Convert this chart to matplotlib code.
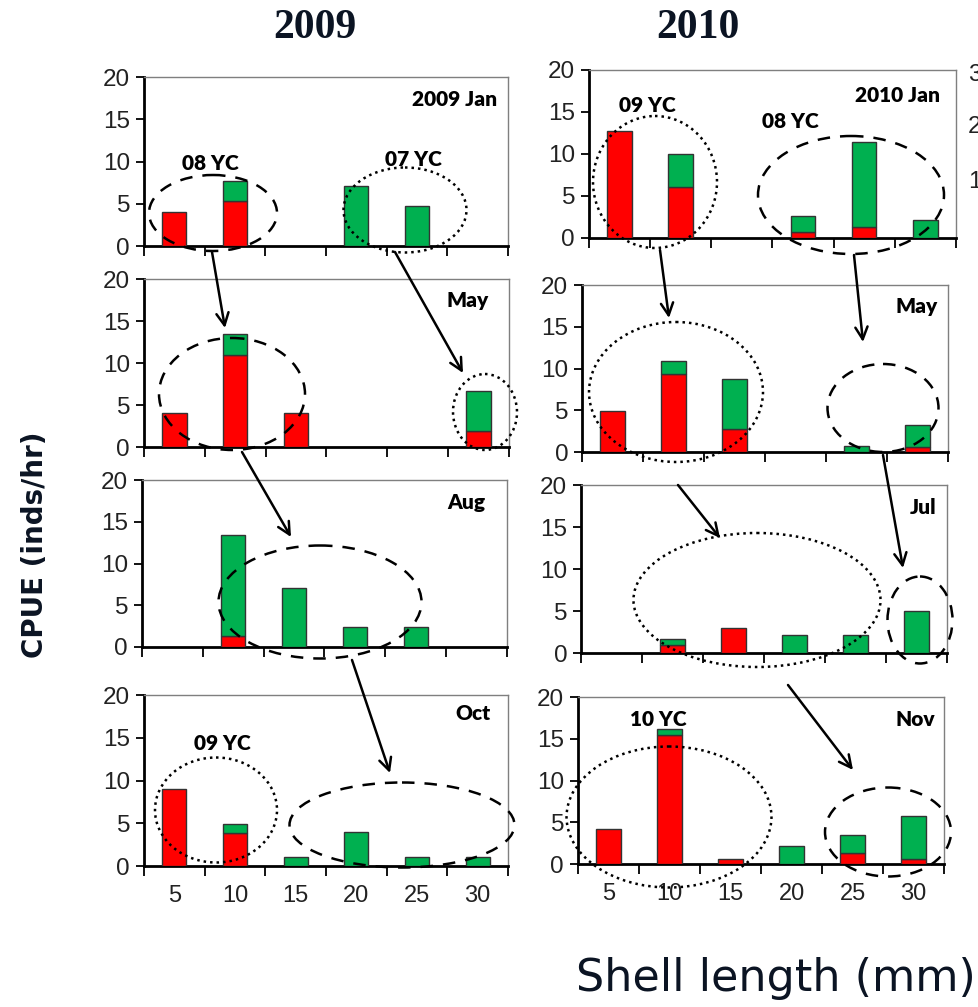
import matplotlib
matplotlib.use('Agg')
import matplotlib.pyplot as plt
import numpy as np
from matplotlib.patches import Ellipse, FancyArrowPatch
from matplotlib.transforms import Affine2D

# shell length classes (mm)
sizes = [5, 10, 15, 20, 25, 30]

# CPUE per size class, red and green parts of each stacked bar
jan09_red = [4.0, 5.3, 0, 0, 0, 0]
jan09_green = [0, 2.4, 0, 7.1, 4.7, 0]
may09_red = [4.0, 11.0, 4.0, 0, 0, 1.95]
may09_green = [0, 2.4, 0, 0, 0, 4.75]
aug09_red = [0, 1.3, 0, 0, 0, 0]
aug09_green = [0, 12.1, 7.1, 2.4, 2.4, 0]
oct09_red = [9.0, 3.9, 0, 0, 0, 0]
oct09_green = [0, 1.05, 1.0, 3.95, 1.0, 1.0]

jan10_red = [12.75, 6.05, 0, 0.7, 1.3, 0]
jan10_green = [0, 4.0, 0, 1.95, 10.1, 2.1]
may10_red = [4.9, 9.3, 2.8, 0, 0, 0.55]
may10_green = [0, 1.6, 6.0, 0, 0.75, 2.7]
jul10_red = [0, 0.9, 3.0, 0, 0, 0]
jul10_green = [0, 0.75, 0, 2.1, 2.1, 4.95]
nov10_red = [4.15, 15.5, 0.6, 0, 1.35, 0.6]
nov10_green = [0, 0.7, 0, 2.1, 2.1, 5.1]

panels = [
    ('2009 Jan', jan09_red, jan09_green, [0.1471, 0.7557, 0.3718, 0.1678]),
    ('May', may09_red, may09_green, [0.1471, 0.5561, 0.3728, 0.1668]),
    ('Aug', aug09_red, aug09_green, [0.1450, 0.3575, 0.3728, 0.1658]),
    ('Oct', oct09_red, oct09_green, [0.1471, 0.1400, 0.3718, 0.1698]),
    ('2010 Jan', jan10_red, jan10_green, [0.6016, 0.7637, 0.3749, 0.1668]),
    ('May', may10_red, may10_green, [0.5945, 0.5511, 0.3739, 0.1658]),
    ('Jul', jul10_red, jul10_green, [0.5935, 0.3515, 0.3739, 0.1668]),
    ('Nov', nov10_red, nov10_green, [0.5904, 0.1420, 0.3739, 0.1658]),
]
bottom_row = [3, 7]

RED = '#FF0000'
GREEN = '#00B050'
INK = '#0b1423'

fig = plt.figure(figsize=(9.79, 10.07), dpi=100)
# pixel coords of the picture (origin top-left) for the hand drawn marks
T = Affine2D().scale(1 / 979, -1 / 1007).translate(0, 1) + fig.transFigure

x = np.arange(len(sizes))
for i, (name, red, green, pos) in enumerate(panels):
    ax = fig.add_axes(pos)
    red = np.array(red)
    green = np.array(green)
    m = red > 0
    ax.bar(x[m], red[m], width=0.4, color=RED, edgecolor='#333333', lw=1, zorder=3)
    m = green > 0
    ax.bar(x[m], green[m], bottom=red[m], width=0.4, color=GREEN,
           edgecolor='#333333', lw=1, zorder=3)
    ax.set_xlim(-0.5, 5.5)
    ax.set_ylim(0, 20)
    ax.set_yticks([0, 5, 10, 15, 20])
    ax.set_xticks(np.arange(-0.5, 6, 1))
    ax.set_xticklabels([])
    ax.set_xticks(x, minor=True)
    if i in bottom_row:
        ax.set_xticklabels([str(s) for s in sizes], minor=True)
    ax.tick_params(axis='x', which='major', length=7, width=1.3, direction='out')
    ax.tick_params(axis='x', which='minor', length=0, pad=14, labelsize=17,
                   labelcolor='#222222')
    ax.tick_params(axis='y', length=6, width=1.3, direction='out', pad=4,
                   labelsize=17.5, labelcolor='#222222')
    for lab in ax.get_xticklabels(minor=True) + ax.get_yticklabels():
        lab.set_family('Liberation Sans')
    for s in ['left', 'bottom']:
        ax.spines[s].set_linewidth(2)
        ax.spines[s].set_color('black')
    for s in ['top', 'right']:
        ax.spines[s].set_linewidth(1)
        ax.spines[s].set_color('#7f7f7f')

# month labels
months = [('2009 Jan', 455, 100), ('May', 468, 300), ('Aug', 466, 502),
          ('Oct', 473, 713), ('2010 Jan', 898, 95), ('May', 917, 307),
          ('Jul', 923, 507), ('Nov', 915, 719)]
for s, px, py in months:
    fig.text(px, py, s, transform=T, ha='center', va='center', fontsize=15,
             fontweight='heavy', family='Lato', color='black')

# year-class labels
cohorts = [('08 YC', 210, 163), ('07 YC', 413, 160), ('09 YC', 222, 743),
           ('09 YC', 647, 105), ('08 YC', 790, 122), ('10 YC', 658, 719)]
for s, px, py in cohorts:
    fig.text(px, py, s, transform=T, ha='center', va='center', fontsize=15,
             fontweight='heavy', family='Lato', color='black')

# ellipses: centre x, centre y, width, height, style
dash = (0, (5, 4))
dot = (0, (1, 1.6))
rings = [
    (213, 213, 128, 76, dash), (405, 210, 123, 85, dot),
    (232, 394, 146, 112, dash), (485, 412, 64, 76, dot),
    (320, 602, 203, 113, dash),
    (216, 810, 122, 105, dot), (402, 825, 225, 85, dash),
    (655, 182, 124, 132, dot), (851, 195, 186, 118, dash),
    (676, 392, 174, 140, dot), (883, 408, 111, 88, dash),
    (757, 600, 247, 134, dot), (920, 620, 65, 87, dash),
    (669, 817, 205, 141, dot), (888, 832, 126, 89, dash),
]
for cx, cy, w, h, ls in rings:
    fig.add_artist(Ellipse((cx, cy), w, h, transform=T, fill=False,
                           ec='black', lw=1.8, ls=ls, zorder=6))

# arrows following the cohorts
arrows = [((212, 252), (225, 328)), ((395, 252), (463, 373)),
          ((242, 452), (291, 537)), ((352, 660), (390, 773)),
          ((660, 250), (669, 318)), ((854, 255), (863, 342)),
          ((678, 485), (720, 538)), ((883, 455), (903, 568)),
          ((788, 685), (853, 770))]
for a, b in arrows:
    fig.add_artist(FancyArrowPatch(a, b, transform=T, arrowstyle='->',
                                   mutation_scale=22, lw=1.8, color='black',
                                   shrinkA=0, shrinkB=0, zorder=7))

# year headers
fig.text(315, 28, '2009', transform=T, ha='center', va='center', fontsize=30,
         fontweight='bold', family='Liberation Serif', color=INK)
fig.text(698, 28, '2010', transform=T, ha='center', va='center', fontsize=30,
         fontweight='bold', family='Liberation Serif', color=INK)

# axis titles
fig.text(35, 545, 'CPUE (inds/hr)', transform=T, ha='center', va='center',
         rotation=90, fontsize=20, fontweight='bold', family='DejaVu Sans',
         color=INK)
fig.text(776, 978, 'Shell length (mm)', transform=T, ha='center', va='center',
         fontsize=32, family='DejaVu Sans', color=INK)

# cut-off tick labels of the next column at the right edge
for s, py in [('30', 75), ('20', 127), ('10', 182)]:
    fig.text(968, py, s, transform=T, ha='left', va='center', fontsize=17.5,
             family='Liberation Sans', color='#222222')

fig.savefig('out.png', dpi=100)
